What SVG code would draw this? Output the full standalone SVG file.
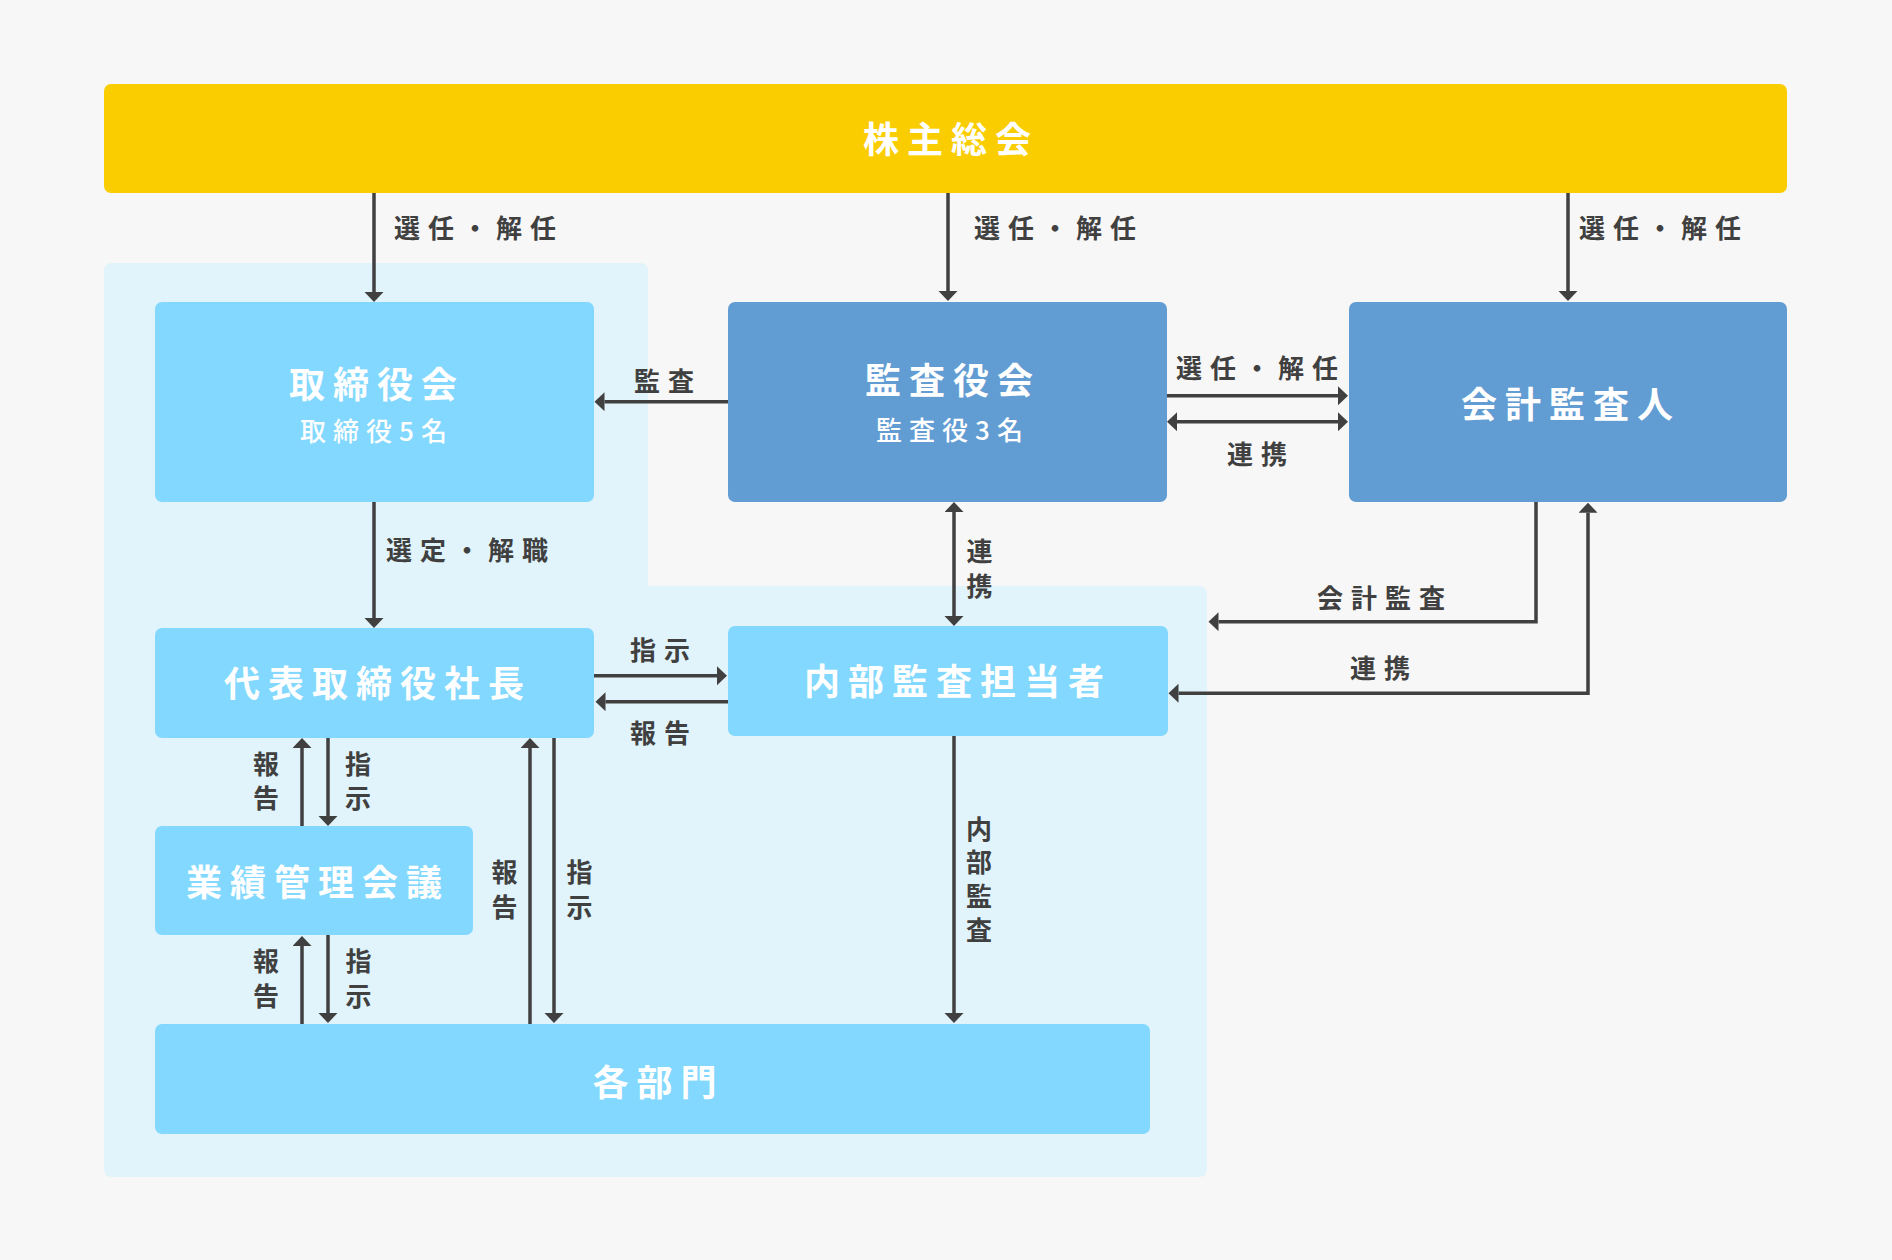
<svg xmlns="http://www.w3.org/2000/svg" width="1892" height="1260" viewBox="0 0 1892 1260">
<style>
.bg{fill:#f7f7f7}
.panel{fill:#e1f4fb}
.light{fill:#82d8fe}
.dark{fill:#619cd3}
.yellow{fill:#facd00}
.t{font-family:"Noto Sans CJK JP","Noto Sans CJK SC",sans-serif;font-weight:700;fill:#ffffff;font-size:36px;letter-spacing:8px;text-anchor:middle}
.sub{font-family:"Noto Sans CJK JP","Noto Sans CJK SC",sans-serif;font-weight:500;fill:#ffffff;font-size:26px;letter-spacing:7px;text-anchor:middle}
.l{font-family:"Noto Sans CJK JP","Noto Sans CJK SC",sans-serif;font-weight:700;fill:#404040;font-size:26px;letter-spacing:8px}
.v{font-family:"Noto Sans CJK JP","Noto Sans CJK SC",sans-serif;font-weight:700;fill:#404040;font-size:26px;text-anchor:middle}
.c{fill:none;stroke:#404040;stroke-width:3.5}
</style>
<defs>
<marker id="ah" markerUnits="userSpaceOnUse" markerWidth="11" markerHeight="20" refX="0" refY="9.5" orient="auto-start-reverse" viewBox="0 0 11 20">
<path d="M0,0 L10,9.5 L0,19 Z" fill="#404040"/>
</marker>
</defs>
<rect class="bg" x="0" y="0" width="1892" height="1260"/>
<path id="panel" class="panel" d="M112,263 H640 Q648,263 648,271 V586 H1199 Q1207,586 1207,594 V1169 Q1207,1177 1199,1177 H112 Q104,1177 104,1169 V271 Q104,263 112,263 Z"/>

<g id="kabunushi-sokai">
<rect class="yellow" x="104" y="84" width="1683" height="109" rx="7"/>
<text class="t" x="951" y="153" letter-spacing="10">株主総会</text>
</g>
<g id="torishimariyakukai">
<rect class="light" x="155" y="302" width="439" height="200" rx="7"/>
<text class="t" x="377" y="398">取締役会</text>
<text class="sub" x="377" y="441">取締役5名</text>
</g>
<g id="kansayakukai">
<rect class="dark" x="728" y="302" width="439" height="200" rx="7"/>
<text class="t" x="953" y="394">監査役会</text>
<text class="sub" x="953" y="440">監査役3名</text>
</g>
<g id="kaikei-kansanin">
<rect class="dark" x="1349" y="302" width="438" height="200" rx="7"/>
<text class="t" x="1571" y="418">会計監査人</text>
</g>
<g id="daihyo">
<rect class="light" x="155" y="628" width="439" height="110" rx="7"/>
<text class="t" x="378" y="697">代表取締役社長</text>
</g>
<g id="naibu-kansa">
<rect class="light" x="728" y="626" width="440" height="110" rx="7"/>
<text class="t" x="958" y="695">内部監査担当者</text>
</g>
<g id="gyoseki">
<rect class="light" x="155" y="826" width="318" height="109" rx="7"/>
<text class="t" x="318" y="896">業績管理会議</text>
</g>
<g id="kakubumon">
<rect class="light" x="155" y="1024" width="995" height="110" rx="7"/>
<text class="t" x="658.5" y="1096" font-size="40" letter-spacing="13">各部門</text>
</g>

<g id="connectors">
<path class="c" d="M374,193 V292" marker-end="url(#ah)"/>
<path class="c" d="M948,193 V291" marker-end="url(#ah)"/>
<path class="c" d="M1568,193 V291" marker-end="url(#ah)"/>
<path class="c" d="M728,401.7 H604.5" marker-end="url(#ah)"/>
<path class="c" d="M1167,395.7 H1338" marker-end="url(#ah)"/>
<path class="c" d="M1177,421.7 H1338" marker-start="url(#ah)" marker-end="url(#ah)"/>
<path class="c" d="M374,502 V618" marker-end="url(#ah)"/>
<path class="c" d="M954,512 V616" marker-start="url(#ah)" marker-end="url(#ah)"/>
<path class="c" d="M594,675.7 H717" marker-end="url(#ah)"/>
<path class="c" d="M728,701.7 H605.5" marker-end="url(#ah)"/>
<path class="c" d="M302,826 V748" marker-end="url(#ah)"/>
<path class="c" d="M328,738 V816" marker-end="url(#ah)"/>
<path class="c" d="M530,1024 V748" marker-end="url(#ah)"/>
<path class="c" d="M554,738 V1013" marker-end="url(#ah)"/>
<path class="c" d="M302,1024 V946" marker-end="url(#ah)"/>
<path class="c" d="M328,935 V1013" marker-end="url(#ah)"/>
<path class="c" d="M954,736 V1013" marker-end="url(#ah)"/>
<path class="c" d="M1536,502 V621.7 H1218.5" marker-end="url(#ah)"/>
<path class="c" d="M1178.5,693.3 H1588 V512.7" marker-start="url(#ah)" marker-end="url(#ah)"/>

<text class="l" x="394" y="237.5">選任・解任</text>
<text class="l" x="974" y="237.5">選任・解任</text>
<text class="l" x="1579" y="237.5">選任・解任</text>
<text class="l" x="634" y="391">監査</text>
<text class="l" x="1176" y="377.5">選任・解任</text>
<text class="l" x="1227" y="464">連携</text>
<text class="l" x="386" y="559.7">選定・解職</text>
<text class="l" x="630" y="659.7">指示</text>
<text class="l" x="630" y="743">報告</text>
<text class="l" x="1317" y="607.5">会計監査</text>
<text class="l" x="1350" y="678">連携</text>

<text class="v" x="979.5" y="561"><tspan x="979.5">連</tspan><tspan x="979.5" dy="34.5">携</tspan></text>
<text class="v" x="266" y="773.5"><tspan x="266">報</tspan><tspan x="266" dy="34.5">告</tspan></text>
<text class="v" x="358" y="773.5"><tspan x="358">指</tspan><tspan x="358" dy="34.5">示</tspan></text>
<text class="v" x="504.5" y="881.5"><tspan x="504.5">報</tspan><tspan x="504.5" dy="35">告</tspan></text>
<text class="v" x="579.5" y="881.5"><tspan x="579.5">指</tspan><tspan x="579.5" dy="35">示</tspan></text>
<text class="v" x="266" y="971"><tspan x="266">報</tspan><tspan x="266" dy="34.5">告</tspan></text>
<text class="v" x="358.5" y="971"><tspan x="358.5">指</tspan><tspan x="358.5" dy="34.5">示</tspan></text>
<text class="v" x="979" y="838.5"><tspan x="979">内</tspan><tspan x="979" dy="33.7">部</tspan><tspan x="979" dy="33.7">監</tspan><tspan x="979" dy="33.7">査</tspan></text>
</g>
</svg>
